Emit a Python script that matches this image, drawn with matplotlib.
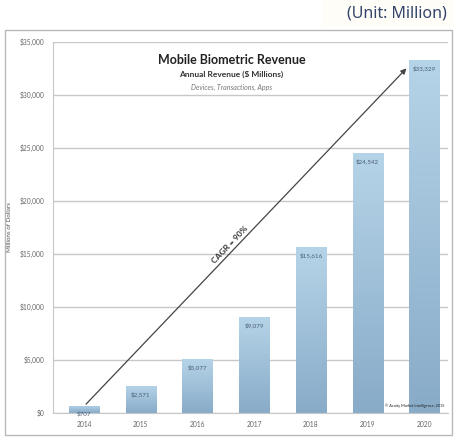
import numpy as np
import matplotlib.pyplot as plt
from matplotlib.patches import Rectangle
from matplotlib.colors import LinearSegmentedColormap

years = ['2014', '2015', '2016', '2017', '2018', '2019', '2020']
revenue = [707, 2571, 5077, 9079, 15616, 24542, 33329]
labels = ['$707', '$2,571', '$5,077', '$9,079', '$15,616', '$24,542', '$33,329']
yticks = [0, 5000, 10000, 15000, 20000, 25000, 30000, 35000]
ytick_labels = ['$0', '$5,000', '$10,000', '$15,000', '$20,000', '$25,000', '$30,000', '$35,000']

plt.rcParams['font.family'] = ['Lato', 'DejaVu Sans']

fig = plt.figure(figsize=(4.54, 4.43), dpi=100)
W, H = 454, 443

# outer grey frame of the pasted chart
fig.patches.append(Rectangle((5 / W, 1 - 435 / H), 447 / W, 405 / H, transform=fig.transFigure,
                             fill=False, ec='#b8b8b8', lw=1.0))
fig.patches.append(Rectangle((322 / W, 1 - 26 / H), 132 / W, 26 / H, transform=fig.transFigure,
                             fc='#fffdf8', ec='none'))
fig.text(0.985, 1 - 13 / H, '(Unit: Million)', ha='right', va='center', fontsize=11.5,
         color='#33436a', family=['Noto Sans', 'DejaVu Sans'])

ax = fig.add_axes([53 / W, 1 - 413 / H, 395 / W, 371 / H])
x = np.arange(len(years))
ax.set_xlim(-0.55, 6.42)
ax.set_ylim(0, 35000)

cmap = LinearSegmentedColormap.from_list('bar', ['#88abc8', '#b6d4e8'])
grad = np.linspace(0, 1, 256).reshape(-1, 1)
bw = 0.53
bars = ax.bar(x, revenue, width=bw, color='none', zorder=2)
for b, v in zip(bars, revenue):
    im = ax.imshow(grad, cmap=cmap, origin='lower', aspect='auto',
                   extent=(b.get_x(), b.get_x() + bw, 0, v), zorder=2)
    im.set_clip_path(b)
for xi, v, lab in zip(x, revenue, labels):
    ax.text(xi, v - 500, lab, ha='center', va='top', fontsize=4.5, color='#4a5f7a', zorder=3)

ax.set_yticks(yticks)
ax.set_yticklabels(ytick_labels)
ax.set_xticks(x)
ax.set_xticklabels(years)
ax.tick_params(length=0, labelsize=4.8, labelcolor='#666666', pad=6)
ax.yaxis.grid(True, color='#c8c8c8', lw=1.0, zorder=0)
ax.set_axisbelow(True)
for s in ['top', 'right']:
    ax.spines[s].set_visible(False)
ax.spines['left'].set_color('#c8c8c8')
ax.spines['bottom'].set_color('#c8c8c8')
ax.set_ylabel('Millions of Dollars', fontsize=4.5, color='#555555', labelpad=6)

# CAGR arrow
x0, y0 = 0, 650
x1, y1 = 5.72, 32700
ax.annotate('', xy=(x1, y1), xytext=(x0, y0),
            arrowprops=dict(arrowstyle='-|>', color='#444444', lw=0.9, mutation_scale=8), zorder=4)
p0 = ax.transData.transform((x0, y0))
p1 = ax.transData.transform((x1, y1))
ang = np.degrees(np.arctan2(p1[1] - p0[1], p1[0] - p0[0]))
ax.text(2.58, 15900, 'CAGR = 90%', rotation=ang, ha='center', va='center', fontsize=6,
        fontweight='bold', color='#333333', rotation_mode='anchor', zorder=4)

ax.text(2.6, 33300, 'Mobile Biometric Revenue', ha='center', va='center', fontsize=9,
        fontweight='bold', color='#222222')
ax.text(2.6, 31900, 'Annual Revenue ($ Millions)', ha='center', va='center', fontsize=6,
        fontweight='bold', color='#333333')
ax.text(2.6, 30700, 'Devices, Transactions, Apps', ha='center', va='center', fontsize=5,
        style='italic', color='#777777')
ax.text(6.35, 700, '\u00a9 Acuity Market Intelligence, 2015', ha='right', va='center',
        fontsize=2.8, color='#222222', zorder=4)

fig.savefig('out.png', dpi=100)
